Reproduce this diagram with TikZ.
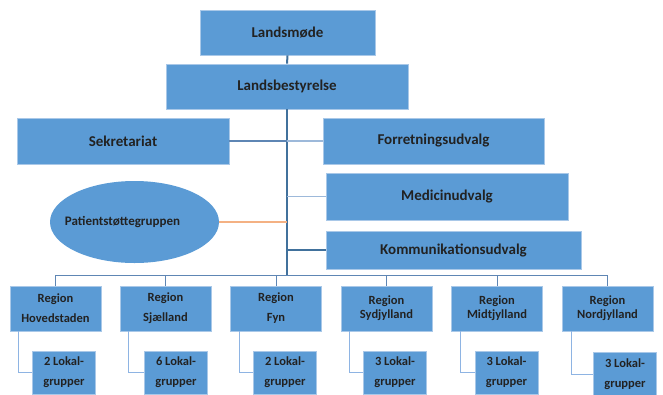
\documentclass[tikz,border=0pt]{standalone}
\usepackage{fontspec}
\setmainfont{Carlito}
\usetikzlibrary{positioning,shapes.geometric}
\definecolor{bx}{HTML}{5B9BD5}
\definecolor{rim}{HTML}{A9C8E8}
\definecolor{tx}{HTML}{222222}
\definecolor{dk}{HTML}{41719C}
\definecolor{md}{HTML}{5E86B4}
\definecolor{lt}{HTML}{9DB9DA}
\definecolor{el}{HTML}{8EB4E3}
\definecolor{or}{HTML}{F4B183}

\tikzset{
  box/.style={rectangle, fill=bx, draw=rim, line width=0.8pt, text=tx,
    font=\fontsize{15}{18}\selectfont\bfseries, inner sep=0pt},
  regbox/.style={box, minimum width=91pt, minimum height=45pt, align=center,
    font=\fontsize{12.5}{20}\selectfont\bfseries},
  lokbox/.style={box, minimum width=63pt, minimum height=43pt, align=center,
    font=\fontsize{12.5}{20}\selectfont\bfseries},
  trunk/.style={draw=dk, line width=2pt},
}

\begin{document}
\begin{tikzpicture}[x=1pt, y=-1pt]
  \useasboundingbox (0,0) rectangle (663,394);

  % Top
  \node[box, minimum width=175pt, minimum height=45pt] (lm) at (287.5,32.5) {Landsmøde};
  \node[box, minimum width=242pt, minimum height=45pt] (lb) at (287,86.5) {Landsbestyrelse};

  % Staff and committees
  \node[box, minimum width=212pt, minimum height=46pt] (sek) at (123,141) {Sekretariat};
  \node[box, minimum width=221pt, minimum height=46pt] (fu) at (433.5,141) {Forretningsudvalg};
  \node[box, minimum width=242pt, minimum height=47pt] (mu) at (447,196.5) {Medicinudvalg};
  \node[box, minimum width=255pt, minimum height=38pt] (ku) at (453.5,250) {Kommunikationsudvalg};
  \node[ellipse, fill=bx, minimum width=169pt, minimum height=82pt, inner sep=0pt] (pg) at (134.5,222) {};
  \node[text=tx, inner sep=0pt, font=\fontsize{13}{15}\selectfont\bfseries] (pgt) at ([xshift=-12pt]pg.center) {Patientstøttegruppen};

  % Trunk
  \coordinate (bus) at (287,275);
  \draw[trunk] (lm.south) -- (lb.north);
  \draw[trunk] (lb.south) -- (bus);
  \draw[draw=md, line width=1.1pt] (sek.east) -- (sek.east -| bus);
  \draw[draw=lt, line width=1.4pt] (fu.west) -- (fu.west -| bus);
  \draw[draw=lt, line width=1.2pt] (mu.west) -- (mu.west -| bus);
  \draw[draw=or, line width=1.4pt] (pg.east) -- (pg.east -| bus);
  \draw[draw=dk, line width=1.2pt] (ku.west) -- (ku.west -| bus);

  % Regions
  \node[regbox] (r1) at (55.5,308.5) {Region\\Hovedstaden};
  \node[regbox] (r2) at (165.5,308.5) {Region\\Sjælland};
  \node[regbox] (r3) at (276,308.5) {Region\\Fyn};
  \node[regbox, font=\fontsize{12.5}{14}\selectfont\bfseries] (r4) at (386.5,308.5) {Region\\Sydjylland};
  \node[regbox, font=\fontsize{12.5}{14}\selectfont\bfseries] (r5) at (497,308.5) {Region\\Midtjylland};
  \node[regbox, font=\fontsize{12.5}{14}\selectfont\bfseries] (r6) at (607.5,308.5) {Region\\Nordjylland};

  % Bus
  \draw[draw=md, line width=1pt] (r1.north) |- (bus);
  \draw[draw=md, line width=1pt] (r6.north) |- (bus);
  \draw[draw=md, line width=1pt] (r2.north) -- (r2.north |- bus);
  \draw[draw=md, line width=1pt] (r3.north) -- (r3.north |- bus);
  \draw[draw=md, line width=1pt] (r4.north) -- (r4.north |- bus);
  \draw[draw=md, line width=1pt] (r5.north) -- (r5.north |- bus);

  % Local groups
  \node[lokbox] (l1) at (64,372.5) {2 Lokal-\\grupper};
  \node[lokbox] (l2) at (176,372.5) {6 Lokal-\\grupper};
  \node[lokbox] (l3) at (285,372.5) {2 Lokal-\\grupper};
  \node[lokbox] (l4) at (395,372.5) {3 Lokal-\\grupper};
  \node[lokbox] (l5) at (506.5,372.5) {3 Lokal-\\grupper};
  \node[lokbox] (l6) at (625,374) {3 Lokal-\\grupper};

  \draw[draw=el, line width=1pt] ([xshift=8.5pt]r1.south west) |- (l1.west);
  \draw[draw=el, line width=1pt] ([xshift=9pt]r2.south west) |- (l2.west);
  \draw[draw=el, line width=1pt] ([xshift=9pt]r3.south west) |- (l3.west);
  \draw[draw=el, line width=1pt] ([xshift=8.5pt]r4.south west) |- (l4.west);
  \draw[draw=el, line width=1pt] ([xshift=9pt]r5.south west) |- (l5.west);
  \draw[draw=el, line width=1pt] ([xshift=10pt]r6.south west) |- (l6.west);
\end{tikzpicture}
\end{document}
